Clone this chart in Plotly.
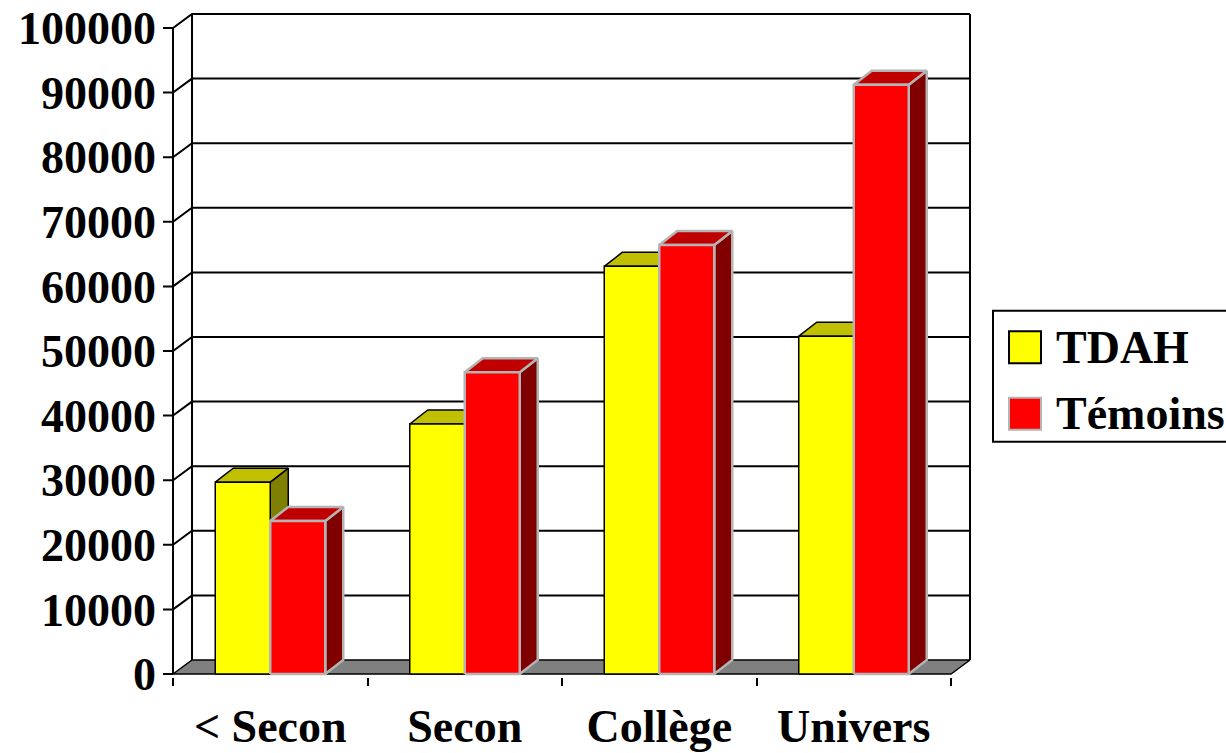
import plotly.graph_objects as go

# ---------------- data ----------------
categories = ["< Secon", "Secon", "Collège", "Univers"]
tdah = [29700, 38700, 63100, 52300]
temoins = [23700, 46700, 66400, 91200]
series_names = ["TDAH", "Témoins"]
y_ticks = [0, 10000, 20000, 30000, 40000, 50000, 60000, 70000, 80000, 90000, 100000]

# ---------------- styles / geometry ----------------
W, H = 1226, 753
PX_X = 194.5               # pixels per category unit
PX_Y = 64.6 / 10000.0      # pixels per value unit
FONT = dict(family="Liberation Serif, Times New Roman, serif", size=46, color="black", weight="bold")

X0 = -0.5
X1 = len(categories) - 0.5
YMAX = y_ticks[-1]
WDX = 19 / PX_X            # wall depth (x units)
WDY = 14 / PX_Y            # wall depth (y units)
BDX = 18 / PX_X            # bar depth
BDY = 14 / PX_Y
BAR_W = 55 / PX_X
TICK_LEN = 10 / PX_X

face_styles = [
    dict(front="#ffff00", top="#c0c000", side="#808000", line="black", lw=1.5),
    dict(front="#ff0000", top="#c00000", side="#800000", line="#b4b4b4", lw=2.5),
]

xr = [X0 - 12 / PX_X, X1 + WDX + 5 / PX_X]
yr = [-3 / PX_Y, YMAX + WDY + 3 / PX_Y]
ml = 173 - 12
pw = (xr[1] - xr[0]) * PX_X
mr = W - ml - pw
mb = H - 674.3 - 3
ph = (yr[1] - yr[0]) * PX_Y
mt = H - mb - ph

fig = go.Figure()

def poly(xs, ys, fill, line, lw, close=True):
    if close:
        xs = xs + [xs[0]]
        ys = ys + [ys[0]]
    fig.add_trace(go.Scatter(x=xs, y=ys, mode="lines", fill="toself" if fill else None,
                             fillcolor=fill, line=dict(color=line, width=lw),
                             hoverinfo="skip", showlegend=False))

# back wall gridlines, side-wall diagonals and tick marks
gx, gy = [], []
for v in y_ticks[1:]:
    gx += [X0 - TICK_LEN, X0, X0 + WDX, X1 + WDX, None]
    gy += [v, v, v + WDY, v + WDY, None]
gx += [X0 - TICK_LEN, X0, None]
gy += [0, 0, None]
# back wall verticals
gx += [X0 + WDX, X0 + WDX, None, X1 + WDX, X1 + WDX, None]
gy += [WDY, YMAX + WDY, None, WDY, YMAX + WDY, None]
# front vertical axis
gx += [X0, X0]
gy += [0, YMAX]
fig.add_trace(go.Scatter(x=gx, y=gy, mode="lines", line=dict(color="black", width=2),
                         hoverinfo="skip", showlegend=False))

# floor
poly([X0, X1, X1 + WDX, X0 + WDX], [0, 0, WDY, WDY], "#808080", "black", 1.5)

# bars (3D faces)
for i in range(len(categories)):
    for s, vals in enumerate([tdah, temoins]):
        st = face_styles[s]
        v = vals[i]
        x0 = i - BAR_W if s == 0 else i
        x1 = x0 + BAR_W
        # side
        poly([x1, x1 + BDX, x1 + BDX, x1], [0, BDY, v + BDY, v], st["side"], st["line"], st["lw"])
        # top
        poly([x0, x1, x1 + BDX, x0 + BDX], [v, v, v + BDY, v + BDY], st["top"], st["line"], st["lw"])
        # front
        poly([x0, x1, x1, x0], [0, 0, v, v], st["front"], st["line"], st["lw"])

# ---------------- manual legend ----------------
def px2paper_x(px):
    return (px - ml) / pw

def px2paper_y(py):
    return 1 - (py - mt) / ph

shapes = [
    dict(type="rect", xref="paper", yref="paper",
         x0=px2paper_x(993), x1=px2paper_x(1245), y0=px2paper_y(442), y1=px2paper_y(311),
         line=dict(color="black", width=2), fillcolor="white", layer="above"),
]
leg_rows = [347.5, 414]
for s, name in enumerate(series_names):
    st = face_styles[s]
    cy = leg_rows[s]
    shapes.append(dict(type="rect", xref="paper", yref="paper",
                       x0=px2paper_x(1009), x1=px2paper_x(1041),
                       y0=px2paper_y(cy + 16), y1=px2paper_y(cy - 16),
                       line=dict(color=st["line"] if s else "black", width=2),
                       fillcolor=st["front"], layer="above"))
    fig.add_annotation(text=name, xref="paper", yref="paper", x=px2paper_x(1054), y=px2paper_y(cy),
                       xanchor="left", yanchor="middle", showarrow=False, font=FONT)

fig.update_layout(
    width=W, height=H,
    margin=dict(l=ml, r=mr, t=mt, b=mb, pad=0, autoexpand=False),
    paper_bgcolor="white", plot_bgcolor="white",
    shapes=shapes,
    showlegend=False,
    xaxis=dict(range=xr, showgrid=False, zeroline=False, showline=False, automargin=False,
               tickmode="array", tickvals=list(range(len(categories))), ticktext=categories,
               ticks="", tickfont=FONT, ticklabelstandoff=18,
               minor=dict(tickmode="array", tickvals=[k - 0.5 for k in range(len(categories) + 1)],
                          ticks="outside", ticklen=8, tickwidth=2, tickcolor="black", showgrid=False)),
    yaxis=dict(range=yr, showgrid=False, zeroline=False, showline=False, automargin=False,
               tickmode="array", tickvals=y_ticks, tickformat="d",
               ticks="", tickfont=FONT, ticklabelstandoff=4),
)

fig.write_html("out.html")
